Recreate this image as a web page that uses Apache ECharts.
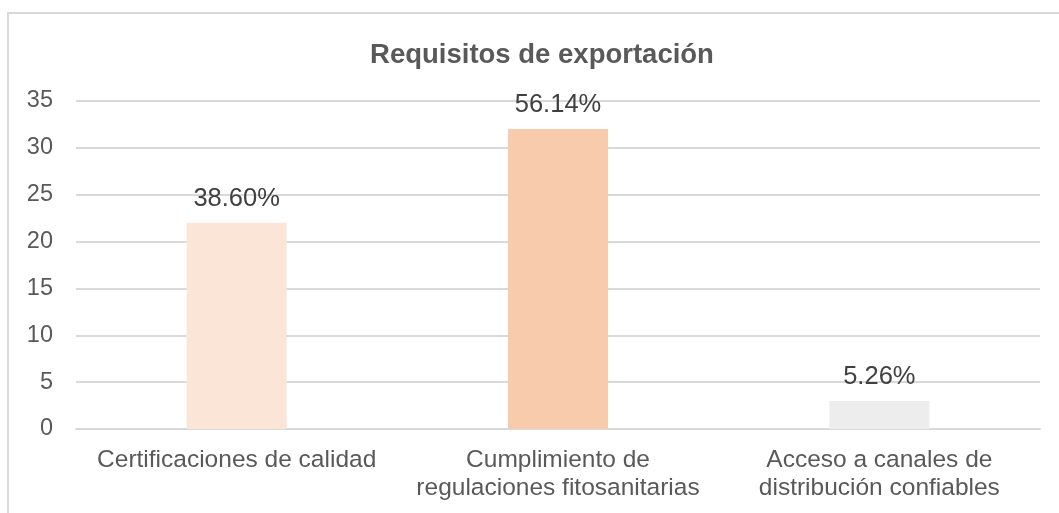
<!DOCTYPE html>
<html>
<head>
<meta charset="utf-8">
<script src="https://cdn.jsdelivr.net/npm/echarts@6/dist/echarts.min.js"></script>
<style>
html,body{margin:0;padding:0;background:#fff;}
#c{width:1059px;height:513px;}
</style>
</head>
<body>
<div id="c"></div>
<script>
const titleText = 'Requisitos de exportación';
const categories = ['Certificaciones de calidad', 'Cumplimiento de\nregulaciones fitosanitarias', 'Acceso a canales de\ndistribución confiables'];
const values = [22, 32, 3];
const percentLabels = ['38.60%', '56.14%', '5.26%'];
const barColors = ['#FBE5D6', '#F8CBAD', '#EDEDED'];

const chart = echarts.init(document.getElementById('c'), null, {renderer: 'canvas'});
const font = 'Liberation Sans, Arial, sans-serif';
chart.setOption({
  animation: false,
  backgroundColor: '#ffffff',
  graphic: [{
    type: 'rect',
    shape: {x: 8, y: 13, width: 1200, height: 700},
    style: {fill: 'none', stroke: '#D9D9D9', lineWidth: 2},
    z: -1
  }],
  title: {
    text: titleText,
    left: 537,
    textAlign: 'center',
    top: 36,
    textStyle: {fontFamily: font, fontSize: 27.5, fontWeight: 'bold', color: '#595959'}
  },
  grid: {left: 76, right: 19, top: 101, bottom: 84, containLabel: false},
  xAxis: {
    type: 'category',
    data: categories,
    axisLine: {lineStyle: {color: '#D9D9D9', width: 2}},
    axisTick: {show: false},
    axisLabel: {fontFamily: font, fontSize: 24.5, color: '#595959', margin: 17, lineHeight: 28, interval: 0}
  },
  yAxis: {
    type: 'value',
    min: 0, max: 35, interval: 5,
    axisLine: {show: false},
    axisTick: {show: false},
    splitLine: {lineStyle: {color: '#D9D9D9', width: 2}},
    axisLabel: {fontFamily: font, fontSize: 23.5, color: '#595959', margin: 23}
  },
  series: [{
    type: 'bar',
    barWidth: 100,
    data: values.map((v, i) => ({value: v, itemStyle: {color: barColors[i]}})),
    label: {
      show: true,
      position: 'top',
      distance: 11,
      fontFamily: font,
      fontSize: 25.5,
      color: '#404040',
      formatter: p => percentLabels[p.dataIndex]
    }
  }]
});
</script>
</body>
</html>
